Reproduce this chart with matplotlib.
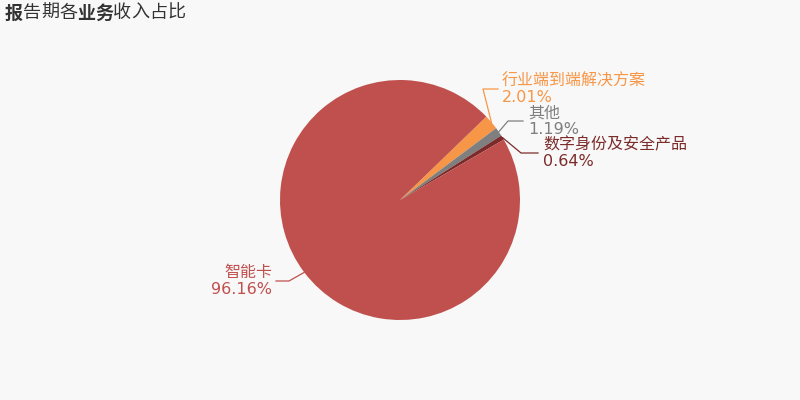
import matplotlib.pyplot as plt
import numpy as np

plt.rcParams['font.family'] = ['Noto Sans CJK SC', 'DejaVu Sans']

# data
names = ['行业端到端解决方案', '其他', '数字身份及安全产品', '智能卡']
values = [2.01, 1.19, 0.64, 96.16]
colors = ['#f79646', '#7f7f7f', '#7b2c2a', '#c0504d']

# label layout: elbow (x, y), line end x, text x, alignment
layout = [
    ((483, 89), 498, 502, 'left'),
    ((508, 121), 523, 528, 'left'),
    ((521, 153), 538, 543, 'left'),
    ((289, 281), 276, 272, 'right'),
]

cx, cy, r = 400, 200, 120
start = 44

fig = plt.figure(figsize=(8, 4), dpi=100)
fig.patch.set_facecolor('#f8f8f8')
ax = fig.add_axes([0, 0, 1, 1])

# y axis is inverted, so flip the pie: counterclock=True draws clockwise on screen
wedges, _ = ax.pie(values, colors=colors, startangle=-start, counterclock=True,
                   center=(cx, cy), radius=r, frame=True,
                   wedgeprops=dict(linewidth=0))
ax.set_xlim(0, 800)
ax.set_ylim(400, 0)
ax.set_aspect('equal')
ax.axis('off')

angle = start
for name, v, c, (elbow, endx, tx, ha) in zip(names, values, colors, layout):
    mid = angle - v / 100 * 360 / 2
    angle -= v / 100 * 360
    a = np.deg2rad(mid)
    px, py = cx + r * np.cos(a), cy - r * np.sin(a)
    ax.plot([px, elbow[0], endx], [py, elbow[1], elbow[1]], color=c, lw=0.9)
    ax.text(tx, elbow[1] - 8, name, color=c, fontsize=11.5, ha=ha, va='center')
    ax.text(tx, elbow[1] + 8, '%.2f%%' % v, color=c, fontsize=11.5, ha=ha, va='center',
            family='DejaVu Sans')

# title: bold characters mixed in, one text per character on a fixed step
title = '报告期各业务收入占比'
bold = [0, 4, 5]
for i, ch in enumerate(title):
    fig.text((5 + 18 * i) / 800, 1 - 13 / 400, ch, fontsize=13,
             fontweight='bold' if i in bold else 'normal', color='#333333', va='center')

fig.savefig('out.png', facecolor=fig.get_facecolor())
